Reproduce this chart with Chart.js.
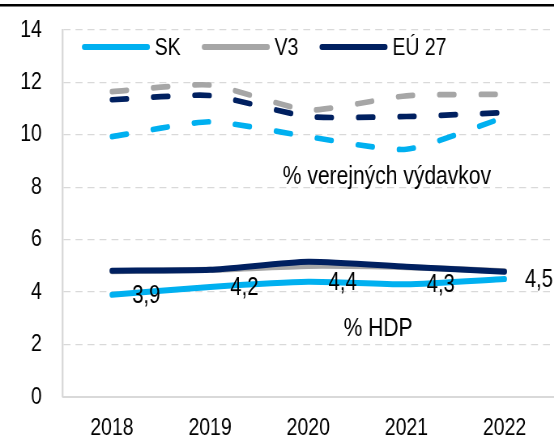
<!DOCTYPE html>
<html><head><meta charset="utf-8">
<script src="https://cdn.jsdelivr.net/npm/chart.js@4/dist/chart.umd.min.js"></script>
<style>
html,body{margin:0;padding:0;background:#fff;overflow:hidden;}
#wrap{width:554px;height:439px;overflow:hidden;position:relative;background:#fff;}
#inner{position:absolute;left:0;top:0;width:684px;height:439px;transform:scaleX(0.81);transform-origin:0 0;}
canvas{display:block;}
</style></head><body>
<div id="wrap"><div id="inner"><canvas id="c" width="684" height="439"></canvas></div></div>
<script>
// ---- data ----
const years = ['2018', '2019', '2020', '2021', '2022'];
// % HDP (solid lines)
const gdpSK = [3.9, 4.2, 4.4, 4.3, 4.5];
const gdpV3 = [4.8, 4.85, 5.0, 4.95, 4.8];
const gdpEU = [4.82, 4.85, 5.16, 4.97, 4.78];
// % verejných výdavkov (dashed lines)
const expSK = [9.93, 10.5, 9.93, 9.45, 10.67];
const expV3 = [11.65, 11.9, 10.95, 11.49, 11.55];
const expEU = [11.34, 11.5, 10.7, 10.7, 10.85];
const yTicks = [0, 2, 4, 6, 8, 10, 12, 14];
const seriesNames = ['SK', 'V3', 'EÚ 27'];
const noteExp = '% verejných výdavkov';
const noteGdp = '% HDP';

const cSK = '#00B0F0', cV3 = '#A6A6A6', cEU = '#002060';
const FONT = '"Liberation Sans", Arial, sans-serif';
const dash = [18.5, 32.5];

function line(label, data, color, dashed) {
  return {
    label: label, data: data, borderColor: color, backgroundColor: color,
    borderWidth: dashed ? 5.7 : 6, borderDash: dashed ? dash : [],
    borderCapStyle: 'round', borderJoinStyle: 'round',
    pointRadius: 0, pointHoverRadius: 0, fill: false, tension: 0.2
  };
}

const extras = {
  id: 'extras',
  afterDraw(chart) {
    const ctx = chart.ctx, ca = chart.chartArea;
    const xs = chart.scales.x, ys = chart.scales.y;
    ctx.save();
    // top rule (cropped from above in the reference)
    ctx.strokeStyle = '#000'; ctx.lineWidth = 2.6; ctx.lineCap = 'butt';
    ctx.beginPath(); ctx.moveTo(0, 5.3); ctx.lineTo(chart.width, 5.3); ctx.stroke();

    // legend inside plot
    ctx.font = '24px ' + FONT; ctx.textBaseline = 'middle'; ctx.textAlign = 'left';
    const cols = [cSK, cV3, cEU];
    let x = ca.left + 23.5; const ly = 47;
    for (let i = 0; i < seriesNames.length; i++) {
      ctx.strokeStyle = cols[i]; ctx.lineWidth = 6; ctx.lineCap = 'round';
      ctx.beginPath(); ctx.moveTo(x + 3, ly); ctx.lineTo(x + 81, ly); ctx.stroke();
      ctx.fillStyle = '#000';
      ctx.fillText(seriesNames[i], x + 90, ly + 1);
      x += 90 + ctx.measureText(seriesNames[i]).width + 26;
    }

    // annotations
    ctx.font = '26px ' + FONT; ctx.fillStyle = '#000';
    ctx.fillText(noteExp, xs.getPixelForValue(1.74), ys.getPixelForValue(8.4));
    ctx.fillText(noteGdp, xs.getPixelForValue(2.36), ys.getPixelForValue(2.6));

    // data labels for SK % HDP
    ctx.font = '25px ' + FONT;
    const meta = chart.getDatasetMeta(0);
    meta.data.forEach((pt, i) => {
      const txt = gdpSK[i].toFixed(1).replace('.', ',');
      ctx.fillText(txt, pt.x + 25, pt.y + 1);
    });
    ctx.restore();
  }
};

new Chart(document.getElementById('c'), {
  type: 'line',
  data: {
    labels: years,
    datasets: [
      line('SK', gdpSK, cSK, false),
      line('EÚ 27', gdpEU, cEU, false),
      line('V3', gdpV3, cV3, false),
      line('SK výdavky', expSK, cSK, true),
      line('EÚ 27 výdavky', expEU, cEU, true),
      line('V3 výdavky', expV3, cV3, true)
    ]
  },
  options: {
    responsive: false, animation: false, devicePixelRatio: 1,
    layout: { padding: { left: -1.1, right: 0.5, top: 30, bottom: -20 } },
    plugins: { legend: { display: false }, tooltip: { enabled: false } },
    scales: {
      x: {
        offset: true,
        grid: { display: false, drawTicks: false },
        border: { display: true, color: '#D9D9D9', width: 2 },
        ticks: { color: '#000', padding: 19, font: { family: FONT, size: 24, lineHeight: 1 }, maxRotation: 0 }
      },
      y: {
        min: 0, max: 14,
        afterBuildTicks(scale) { scale.ticks = yTicks.map(v => ({ value: v })); },
        afterFit(scale) { scale.paddingTop = 0; },
        grid: { color: '#D9D9D9', lineWidth: 1.3, drawTicks: false },
        border: { display: true, color: '#D9D9D9', width: 2.4, dash: [8.6, 6.2] },
        ticks: { color: '#000', padding: 26, font: { family: FONT, size: 24, lineHeight: 1 } }
      }
    }
  },
  plugins: [extras]
});
</script>
</body></html>
